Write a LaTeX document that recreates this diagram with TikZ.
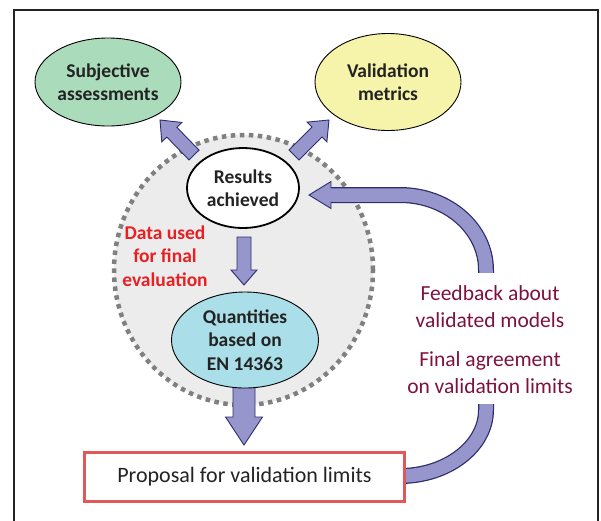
\documentclass[tikz,border=0pt]{standalone}
\usepackage{fontspec}
\setmainfont{Carlito}
\usetikzlibrary{shapes.geometric,calc}
\definecolor{framegray}{RGB}{35,35,35}
\definecolor{greenfill}{RGB}{170,219,187}
\definecolor{yellowfill}{RGB}{246,244,170}
\definecolor{cyanfill}{RGB}{170,222,232}
\definecolor{regionfill}{RGB}{236,236,236}
\definecolor{dotgray}{RGB}{128,128,128}
\definecolor{lav}{RGB}{150,150,204}
\definecolor{navy}{RGB}{45,45,110}
\definecolor{redtext}{RGB}{232,32,36}
\definecolor{redbox}{RGB}{226,88,88}
\definecolor{maroon}{RGB}{125,18,62}
\definecolor{darktext}{RGB}{35,35,35}
\tikzset{
  bubble/.style={ellipse, draw=black, line width=0.9pt, inner sep=0pt, align=center,
    text=darktext, font=\fontsize{19.5}{23.5}\selectfont\bfseries},
  barrow/.style={fill=lav, draw=navy, line width=0.9pt, line join=miter},
  labeltext/.style={text=maroon, font=\fontsize{21.5}{27}\selectfont, align=center, inner sep=0pt}
}
\newcommand\blockarrow[5]{%
\draw[barrow] let \p1=(#1), \p2=(#2), \n1={atan2(\y2-\y1,\x2-\x1)}, \n2={veclen(\x2-\x1,\y2-\y1)-#5} in
 ($(\p1)+(\n1+90:#3)$) -- ($(\p1)+(\n1:\n2)+(\n1+90:#3)$) -- ($(\p1)+(\n1:\n2)+(\n1+90:#4)$) -- (\p2)
 -- ($(\p1)+(\n1:\n2)+(\n1-90:#4)$) -- ($(\p1)+(\n1:\n2)+(\n1-90:#3)$) -- ($(\p1)+(\n1-90:#3)$) -- cycle;}
\begin{document}
\begin{tikzpicture}[x=1pt,y=1pt]
\useasboundingbox (0,0) rectangle (601,-520);
% frame
\draw[line width=2.2pt, framegray] (14,-530) -- (14,-10) -- (598,-10) -- (598,-530);
% grey region
\node[ellipse, fill=regionfill, draw=dotgray, line width=4.5pt, dash pattern=on 4.5pt off 4.5pt,
  minimum width=259pt, minimum height=270pt, inner sep=0pt] (region) at (243.5,-270) {};
% feedback band
\coordinate (fbbase) at (331,-195);
\coordinate (fbinner) at (329,-195);
\coordinate (fbtip) at (309,-195);
\coordinate (fbstart) at (400,-476);
\draw[navy, line width=16pt] (fbstart) .. controls (447.5,-476) and (486,-446) .. (486,-410)
  -- (486,-270) .. controls (486,-228.6) and (447.5,-195) .. (400,-195) -- (fbbase);
\draw[lav, line width=13.5pt] (fbstart) .. controls (447.5,-476) and (486,-446) .. (486,-410)
  -- (486,-270) .. controls (486,-228.6) and (447.5,-195) .. (400,-195) -- (fbinner);
\fill[lav] ($(fbbase)+(0,-13.5)$) -- (fbtip) -- ($(fbbase)+(0,13.5)$) -- cycle;
\draw[navy, line width=0.9pt, line join=miter] ($(fbbase)+(0,6.9)$) -- ($(fbbase)+(0,13.5)$) -- (fbtip)
  -- ($(fbbase)+(0,-13.5)$) -- ($(fbbase)+(0,-6.9)$);
% straight block arrows
\coordinate (a1s) at (194,-155);
\coordinate (a1e) at (160,-120);
\coordinate (a2s) at (294,-155);
\coordinate (a2e) at (329,-120);
\coordinate (a3s) at (244,-237);
\coordinate (a3e) at (244,-285);
\coordinate (a4s) at (244,-380);
\coordinate (a4e) at (244,-445);
\blockarrow{a1s}{a1e}{7}{14}{17}
\blockarrow{a2s}{a2e}{7}{14}{17}
\blockarrow{a3s}{a3e}{7}{13}{15}
\blockarrow{a4s}{a4e}{11}{18.5}{28}
% ellipses
\node[bubble, fill=greenfill, minimum width=146pt, minimum height=88pt] (subj) at (108,-82) {Subjective\\assessments};
\node[bubble, fill=yellowfill, minimum width=146pt, minimum height=97pt] (valm) at (388,-82) {Validation\\metrics};
\node[bubble, fill=white, line width=1.8pt, minimum width=112pt, minimum height=80pt] (res) at (243,-188) {Results\\achieved};
\node[bubble, fill=cyanfill, minimum width=147pt, minimum height=96pt] (quant) at (245,-340) {Quantities\\based on\\EN 14363};
% red text
\node[text=redtext, font=\fontsize{19.5}{23.5}\selectfont\bfseries, align=center, inner sep=0pt] (data) at (165,-256) {Data used\\for final\\evaluation};
% label panel
\fill[white] (385,-273) rectangle (577,-404);
\node[labeltext] (fb) at (490,-307) {Feedback about\\validated models};
\node[labeltext] (fa) at (490,-373) {Final agreement\\on validation limits};
% proposal box
\node[draw=redbox, line width=2.5pt, fill=white, minimum width=320pt, minimum height=49pt, inner sep=0pt,
  text=darktext, font=\fontsize{22}{26}\selectfont] (prop) at (244.5,-477) {Proposal for validation limits};
\end{tikzpicture}
\end{document}
